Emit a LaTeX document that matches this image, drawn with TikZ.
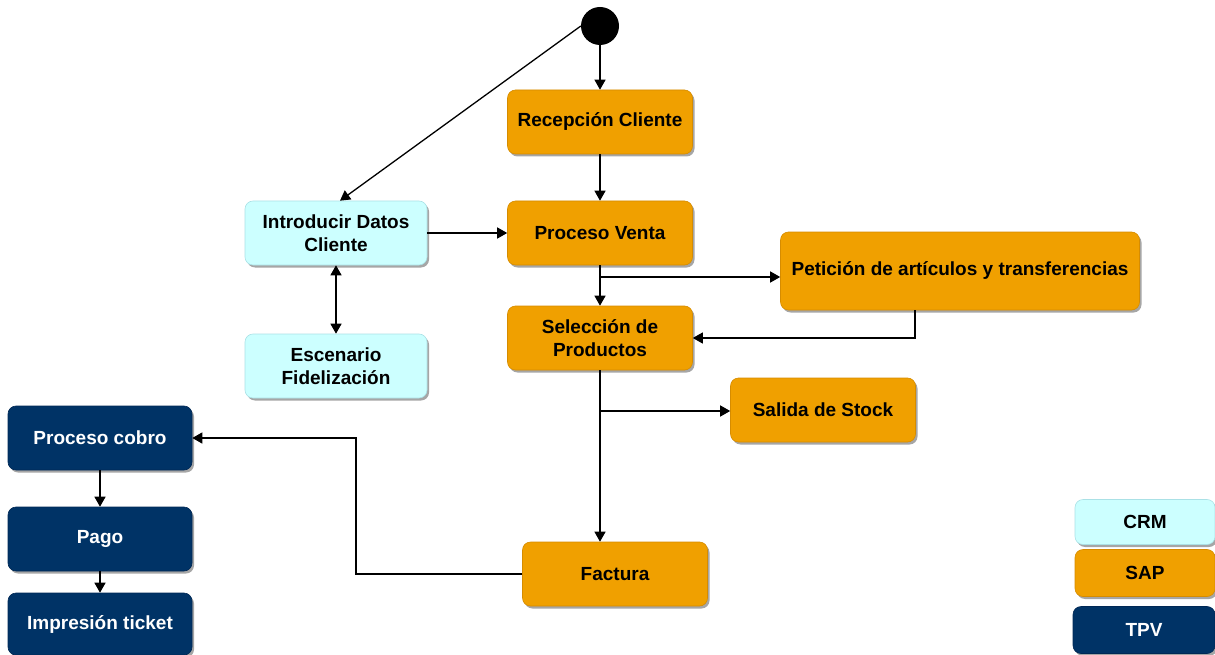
\documentclass[tikz,border=0pt]{standalone}
\usepackage{fontspec}
\setmainfont{Liberation Sans}
\usetikzlibrary{arrows.meta,shadows}
\definecolor{sapfill}{RGB}{240,160,0}
\definecolor{sapedge}{RGB}{214,140,0}
\definecolor{crmfill}{RGB}{204,255,255}
\definecolor{crmedge}{RGB}{170,225,230}
\definecolor{tpvfill}{RGB}{0,51,102}
\definecolor{tpvedge}{RGB}{0,40,85}
\tikzset{
  box/.style={rectangle, rounded corners=8pt, align=center, inner sep=2pt,
    minimum width=185pt, minimum height=64pt, line width=0.6pt,
    font=\fontsize{19}{22.5}\selectfont\bfseries,
    drop shadow={shadow xshift=2pt, shadow yshift=-2.5pt, opacity=0.35, fill=black}},
  sap/.style={box, fill=sapfill, draw=sapedge, text=black},
  crm/.style={box, fill=crmfill, draw=crmedge, text=black},
  tpv/.style={box, fill=tpvfill, draw=tpvedge, text=white},
  tip/.style={Triangle[length=10pt,width=11pt]},
  arr/.style={draw=black, line width=1.3pt, -{Triangle[length=10pt,width=11pt]}},
  darr/.style={draw=black, line width=1.3pt, {Triangle[length=10pt,width=11pt]}-{Triangle[length=10pt,width=11pt]}},
}
\begin{document}
\begin{tikzpicture}[x=1pt,y=-1pt]
\useasboundingbox (0,0) rectangle (1215,655);

% start state
\node[circle, fill=black, minimum size=38pt, inner sep=0pt] (start) at (600,26) {};

% SAP activities
\node[sap] (rec) at (600,122) {Recepción Cliente};
\node[sap] (pv)  at (600,233) {Proceso Venta};
\node[sap, minimum width=359pt, minimum height=78pt] (pet) at (960,271) {Petición de artículos y transferencias};
\node[sap] (sel) at (600,338) {Selección de\\Productos};
\node[sap] (sal) at (823,410) {Salida de Stock};
\node[sap] (fac) at (615,574) {Factura};

% CRM activities
\node[crm, minimum width=182pt] (intro) at (336,233) {Introducir Datos\\Cliente};
\node[crm, minimum width=182pt] (esc)   at (336,366) {Escenario\\Fidelización};

% TPV activities
\node[tpv, minimum width=184pt] (cobro) at (100,438) {Proceso cobro};
\node[tpv, minimum width=184pt] (pago)  at (100,539) {Pago};
\node[tpv, minimum width=184pt, minimum height=62pt] (tick) at (100,624) {Impresión ticket};

% legend
\node[crm, minimum width=140pt, minimum height=45pt] (lcrm) at (1145,522) {CRM};
\node[sap, minimum width=140pt, minimum height=47pt] (lsap) at (1145,573) {SAP};
\node[tpv, minimum width=142pt, minimum height=47pt] (ltpv) at (1144,630) {TPV};

% branch points
\coordinate (b1) at (600,277);
\coordinate (b2) at (600,411);
\coordinate (c1) at (356,438);

% flows
\draw[arr] (start) -- (rec);
\draw[arr] (start.west) -- ([xshift=4pt]intro.north);
\draw[arr] (rec) -- (pv);
\draw[arr] (intro) -- (pv);
\draw[darr] (intro) -- (esc);
\draw[arr] (pv) -- (sel);
\draw[arr] (b1) -- (pet.west |- b1);
\draw[arr] ([xshift=-45pt]pet.south) |- (sel.east);
\draw[arr] (sel.south) -- (sel.south |- fac.north);
\draw[arr] (b2) -- (sal.west |- b2);
\draw[arr] (fac.west) -| (c1) -- (cobro.east);
\draw[arr] (cobro) -- (pago);
\draw[arr] (pago) -- (tick);
\end{tikzpicture}
\end{document}
